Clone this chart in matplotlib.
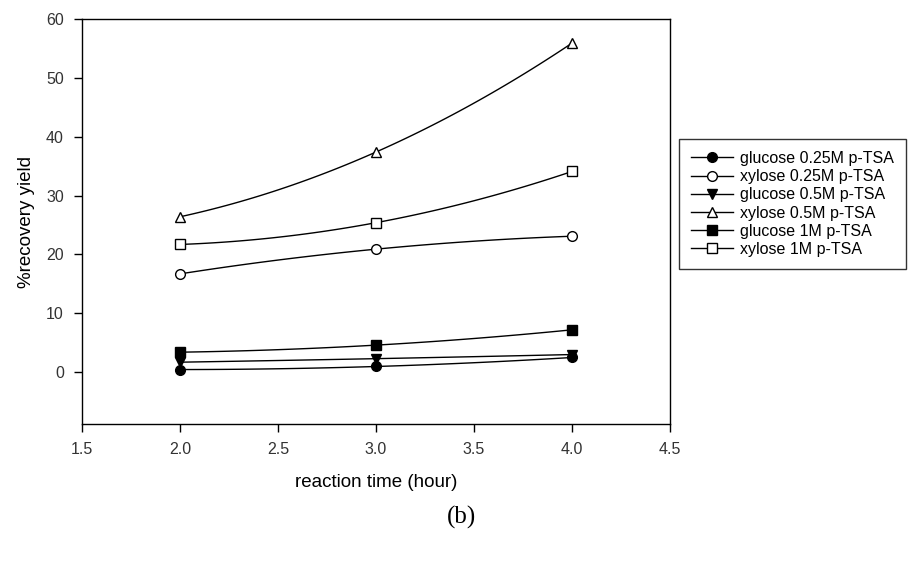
import numpy as np
import matplotlib
matplotlib.use("Agg")
import matplotlib.pyplot as plt

plt.rcParams['font.family'] = ['Liberation Sans', 'DejaVu Sans']

# reaction time (hour)
times = [2.0, 3.0, 4.0]

# % recovery yield
glucose_025 = [0.45, 0.97, 2.5]
xylose_025 = [16.7, 20.9, 23.1]
glucose_05 = [1.7, 2.3, 3.0]
xylose_05 = [26.4, 37.4, 55.9]
glucose_1 = [3.4, 4.6, 7.2]
xylose_1 = [21.7, 25.4, 34.1]

labels = ['glucose 0.25M p-TSA', 'xylose 0.25M p-TSA', 'glucose 0.5M p-TSA',
          'xylose 0.5M p-TSA', 'glucose 1M p-TSA', 'xylose 1M p-TSA']
series = [glucose_025, xylose_025, glucose_05, xylose_05, glucose_1, xylose_1]
markers = ['o', 'o', 'v', '^', 's', 's']
filled = [True, False, True, False, True, False]

fig = plt.figure(figsize=(9.14, 5.74), dpi=100)
ax = fig.add_axes([82/914, 1 - 424/574, (670-82)/914, (424-19)/574])

for vals, lab, m, f in zip(series, labels, markers, filled):
    # smooth curve through the three measured points (as in the original plot)
    coef = np.polyfit(times, vals, 2)
    xs = np.linspace(times[0], times[-1], 60)
    ax.plot(xs, np.polyval(coef, xs), color='black', lw=1.0, zorder=2)
    ax.plot(times, vals, ls='none', marker=m, ms=7, mec='black', mew=1.0,
            mfc='black' if f else 'white', zorder=3)

# legend handles: line with marker
handles = [plt.Line2D([], [], color='black', lw=1.0, marker=m, ms=7, mec='black', mew=1.0,
                      mfc='black' if f else 'white')
           for m, f in zip(markers, filled)]
leg = fig.legend(handles, labels, loc='upper left', bbox_to_anchor=(679/914, 1 - 139/574),
                 frameon=True, fancybox=False, edgecolor='black', fontsize=11.5,
                 handlelength=2.6, handletextpad=0.5, labelspacing=0.2,
                 borderpad=0.75, borderaxespad=0)
leg.get_frame().set_linewidth(1.0)

ax.set_xlim(1.5, 4.5)
ax.set_ylim(-8.8, 60)
ax.set_xticks([1.5, 2.0, 2.5, 3.0, 3.5, 4.0, 4.5])
ax.set_xticklabels(['1.5', '2.0', '2.5', '3.0', '3.5', '4.0', '4.5'])
ax.set_yticks([0, 10, 20, 30, 40, 50, 60])
ax.tick_params(direction='out', length=6, width=1, labelsize=11.5, top=False, right=False,
               labelcolor='#333333')
ax.tick_params(axis='y', pad=7)
ax.tick_params(axis='x', pad=7)
for sp in ax.spines.values():
    sp.set_linewidth(1.0)

ax.set_xlabel('reaction time (hour)', fontsize=13.5, labelpad=12)
ax.set_ylabel('%recovery yield', fontsize=13.5, labelpad=8)

fig.text(462/914, 1 - 517/574, '(b)', family='Liberation Serif', fontsize=18,
         ha='center', va='center')

fig.savefig('out.png', dpi=100)
